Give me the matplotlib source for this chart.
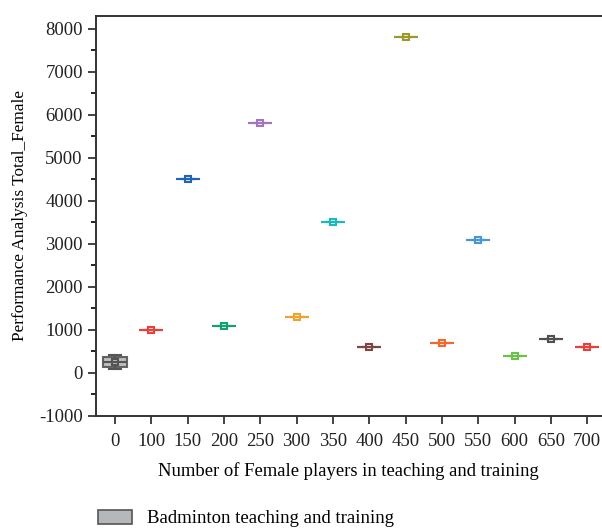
import matplotlib.pyplot as plt
from matplotlib.patches import Patch

plt.rcParams['font.family'] = ['Liberation Serif', 'DejaVu Serif']
plt.rcParams['axes.unicode_minus'] = False

# number of female players (categories) and performance totals
categories = ['0', '100', '150', '200', '250', '300', '350', '400',
              '450', '500', '550', '600', '650', '700']
group_zero = [90, 140, 250, 370, 420]
single_values = [1000, 4500, 1100, 5800, 1300, 3500, 600,
                 7800, 700, 3100, 400, 800, 600]
colors = ['#555555', '#e8413c', '#2166b5', '#16a071', '#a374c0', '#f0a22e',
          '#1ab9bd', '#7f4545', '#9a9a2a', '#ee6a30', '#4a95d8', '#6ac24a',
          '#505050', '#e8413c']

data = [group_zero] + [[v] for v in single_values]

fig = plt.figure(figsize=(6.02, 5.31), dpi=100)
ax = fig.add_axes([0.1595, 0.2166, 0.84, 0.7534])

for i, (vals, c) in enumerate(zip(data, colors)):
    face = '#b4b8ba' if i == 0 else 'white'
    ax.boxplot([vals], positions=[i], widths=0.66, patch_artist=True,
               showmeans=True, showfliers=False,
               boxprops=dict(facecolor=face, edgecolor=c, linewidth=1.5, alpha=0.9),
               medianprops=dict(color=c, linewidth=1.5),
               whiskerprops=dict(color=c, linewidth=1.5),
               capprops=dict(color=c, linewidth=1.5),
               meanprops=dict(marker='s', markersize=5, markerfacecolor='none',
                              markeredgecolor=c, markeredgewidth=1.5))

ax.set_xlim(-0.52, 13.4)
ax.set_ylim(-1000, 8300)
ax.set_xticks(range(len(categories)))
ax.set_xticklabels(categories)
ax.set_yticks(range(-1000, 8001, 1000))
ax.set_yticks(range(-500, 8001, 1000), minor=True)
ax.tick_params(axis='both', which='major', direction='out', length=6, width=1.2,
               labelsize=13.5, colors='#222222')
ax.tick_params(axis='y', which='minor', direction='out', length=3.5, width=1.2)
ax.tick_params(axis='x', pad=6)

for side in ['left', 'bottom', 'top']:
    ax.spines[side].set_linewidth(1.4)
    ax.spines[side].set_color('#333333')
ax.spines['right'].set_visible(False)

ax.set_xlabel('Number of Female players in teaching and training', fontsize=13.4,
              labelpad=9)
ax.set_ylabel('Performance Analysis Total_Female', fontsize=12.4, labelpad=8)

fig.legend(handles=[Patch(facecolor='#b4b8ba', edgecolor='#555555', linewidth=1.2,
                          label='Badminton teaching and training')],
           loc='lower left', bbox_to_anchor=(0.135, -0.025), frameon=False,
           fontsize=13.5, handlelength=1.8, handleheight=0.75, handletextpad=0.8)

fig.savefig('out.png', dpi=100)
